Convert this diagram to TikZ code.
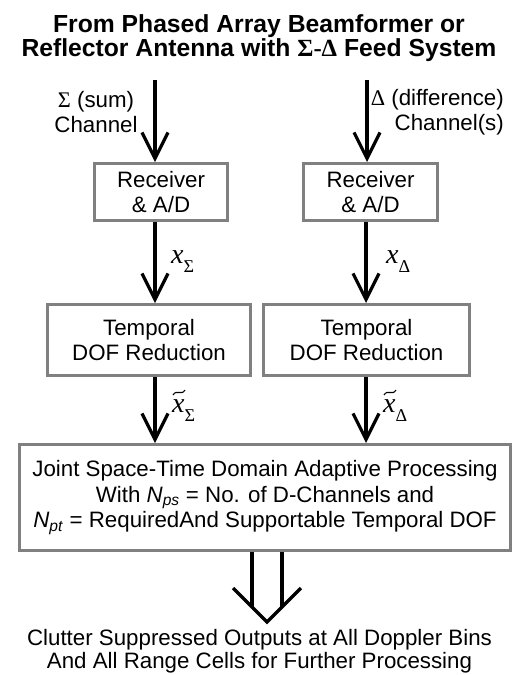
\documentclass[tikz,border=0pt]{standalone}
\usepackage{fontspec}
\setmainfont{Liberation Sans}
\newfontfamily\serif{Liberation Serif}
\usetikzlibrary{arrows.meta}
\definecolor{boxgray}{RGB}{128,128,128}
\newcommand\bodyfont{\fontsize{22.3}{25.5}\selectfont}
\newcommand\xlab[1]{{\serif\itshape\fontsize{28}{28}\selectfont x}\raisebox{-9pt}{\serif\fontsize{18}{18}\selectfont #1}}
\begin{document}
\begin{tikzpicture}[x=1pt,y=-1pt,
  box/.style={draw=boxgray, line width=3pt, fill=white, align=center, inner sep=0pt, font=\bodyfont},
  arr/.style={line width=3.2pt, -{Straight Barb[length=26pt,width=26pt]}},
  thickline/.style={line width=3.2pt},
  lab/.style={align=center, font=\bodyfont, inner sep=0pt},
  sublab/.style={anchor=base west, inner sep=0pt},
  tilde/.style={line width=1.1pt}]
\useasboundingbox[fill=white] (0,0) rectangle (514,675);

% title
\node[align=center, inner sep=0pt, font=\bfseries\fontsize{24.7}{23}\selectfont] (title) at (259,38.5)
  {From Phased Array Beamformer or\\Reflector Antenna with {\serif\bfseries Σ-Δ} Feed System};

% column coordinates
\coordinate (inL) at (155,80);
\coordinate (inR) at (367,80);
\coordinate (colL) at (155,0);
\coordinate (colR) at (366,0);

% channel labels
\node[lab] (sumlab) at (96,112) {{\serif Σ} (sum)\\Channel};
\node[lab, align=right, anchor=east] (difflab) at (504,112) {{\serif Δ} (difference)\\Channel(s)};

% receivers
\node[box, minimum width=133pt, minimum height=57pt] (rxL) at (161,192) {Receiver\\\& A/D};
\node[box, minimum width=134pt, minimum height=57pt] (rxR) at (370.5,192) {Receiver\\\& A/D};

% temporal DOF reduction
\node[box, minimum width=203pt, minimum height=71pt] (tpL) at (149,340) {Temporal\\DOF Reduction};
\node[box, minimum width=206pt, minimum height=71pt] (tpR) at (366.5,340) {Temporal\\DOF Reduction};

% joint processing
\node[box, minimum width=491pt, minimum height=106pt] (big) at (265,497.5)
  {Joint Space-Time Domain Adaptive Processing\\
   With \textit{N}\textsubscript{\textit{ps}} = No. of D-Channels and\\
   \textit{N}\textsubscript{\textit{pt}} = RequiredAnd Supportable Temporal DOF};

% arrows
\draw[arr] (inL) -- (rxL.north -| inL);
\draw[arr] (inR) -- (rxR.north -| inR);
\draw[arr] (rxL.south -| colL) -- (tpL.north -| colL);
\draw[arr] (rxR.south -| colR) -- (tpR.north -| colR);
\draw[arr] (tpL.south -| colL) -- (big.north -| colL);
\draw[arr] (tpR.south -| colR) -- (big.north -| colR);

% signal labels
\node[sublab] (xsL) at (171,263) {\xlab{Σ}};
\node[sublab] (xsR) at (386,263) {\xlab{Δ}};
\node[sublab] (xtL) at (172,412) {\xlab{Σ}};
\node[sublab] (xtR) at (383,412) {\xlab{Δ}};
\draw[tilde] ([shift={(1,-17)}]xtL.base west) .. controls +(3.5,-6) and +(-3.5,6) .. ([shift={(13,-22)}]xtL.base west);
\draw[tilde] ([shift={(1,-17)}]xtR.base west) .. controls +(3.5,-6) and +(-3.5,6) .. ([shift={(13,-22)}]xtR.base west);

% output double arrow
\coordinate (oL) at (252,0);
\coordinate (oR) at (282,0);
\coordinate (oLe) at (252,607);
\coordinate (oRe) at (282,607);
\coordinate (wL) at (233,588);
\coordinate (wR) at (301,588);
\coordinate (otip) at (267,622);
\draw[thickline] (big.south -| oL) -- (oLe);
\draw[thickline] (big.south -| oR) -- (oRe);
\draw[thickline, line join=miter] (wL) -- (otip) -- (wR);

% output text
\node[lab, font=\fontsize{22.3}{23}\selectfont] (outtxt) at (259.5,651.5)
  {Clutter Suppressed Outputs at All Doppler Bins\\And All Range Cells for Further Processing};
\end{tikzpicture}
\end{document}
